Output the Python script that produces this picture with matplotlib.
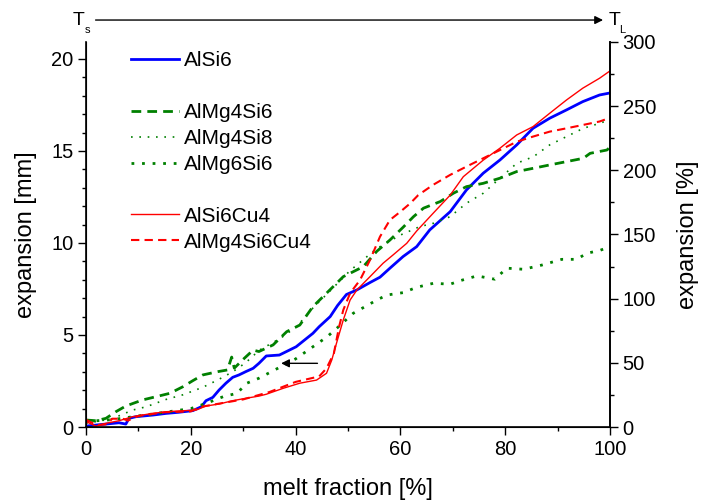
import numpy as np
import matplotlib
matplotlib.use('Agg')
import matplotlib.pyplot as plt
from matplotlib.ticker import MultipleLocator
from matplotlib.lines import Line2D

plt.rcParams['font.family'] = ['Liberation Sans', 'DejaVu Sans']
plt.rcParams['font.size'] = 14.5

# data (melt fraction [%], expansion [mm])
alsi6_x = [0, 3.8, 6.3, 7.6, 8.2, 9.5, 12.8, 15.3, 17.7, 20.4, 22, 22.9, 24.2, 25.4, 26.7, 28, 29.2,
           30.5, 31.9, 33, 34.4, 36.9, 40.1, 43.3, 44.5, 46.6, 48, 49.7, 51.7, 54.2, 56.1, 58, 60.5,
           63.1, 65.6, 69.5, 72.6, 75.8, 79, 82.2, 85.3, 88.5, 91.7, 94.8, 98, 100]
alsi6_y = [0.05, 0.16, 0.23, 0.16, 0.47, 0.56, 0.65, 0.74, 0.80, 0.89, 1.10, 1.43, 1.61, 2.01, 2.38,
           2.70, 2.83, 3.01, 3.19, 3.46, 3.86, 3.91, 4.36, 5.09, 5.45, 6.0, 6.6, 7.2, 7.45, 7.85, 8.14,
           8.63, 9.26, 9.80, 10.71, 11.70, 12.88, 13.79, 14.51, 15.33, 16.23, 16.78, 17.23, 17.68,
           18.04, 18.15]

almg4si6_x = [0, 1.9, 3.8, 5.7, 7.6, 10.8, 13.4, 16, 18.5, 20.4, 22.3, 25.2, 27, 27.8, 28.3, 30.2,
              31.9, 33, 35.7, 38.3, 40.8, 43.3, 45.9, 49.1, 52.9, 55.5, 58, 60.5, 62.5, 64.4, 67.6,
              70.1, 72.6, 75.8, 79, 82.2, 85.4, 88.5, 91.7, 94.9, 96.2, 99.4, 100]
almg4si6_y = [0.38, 0.34, 0.47, 0.83, 1.14, 1.47, 1.65, 1.83, 2.19, 2.52, 2.83, 3.01, 3.1, 3.8, 3.2,
              3.73, 4.18, 4.1, 4.46, 5.18, 5.54, 6.54, 7.27, 8.17, 8.71, 9.55, 10.16, 10.85, 11.43,
              11.89, 12.25, 12.7, 13.06, 13.24, 13.52, 13.88, 14.06, 14.24, 14.42, 14.6, 14.87,
              15.05, 15.2]

almg4si8_x = [0, 5, 8.9, 11.5, 15.3, 18.5, 22.3, 25.1, 28, 30.5, 33.1, 37, 40.2, 43.4, 45.9, 50.4,
              55.5, 60, 63.7, 66.3, 69.5, 72.6, 75.8, 79, 82.2, 85.4, 88.5, 91.7, 94.9, 98, 100]
almg4si8_y = [0.2, 0.45, 0.92, 1.1, 1.5, 1.75, 2.16, 2.55, 3.0, 3.5, 4.18, 4.8, 5.45, 6.5, 7.2, 8.5,
              9.7, 10.43, 10.89, 11.07, 11.43, 12.16, 12.7, 13.52, 14.33, 14.69, 15.33, 15.78, 16.23,
              16.5, 16.7]

almg6si6_x = [0, 5, 10, 15, 20, 23, 26.2, 28.8, 30.7, 33, 36, 40, 43, 46, 48, 51, 55.5, 57.4, 60.5,
              63.1, 66.3, 69.5, 71.4, 74.6, 78, 80.3, 83.5, 87, 90.8, 93.6, 95.6, 98.1, 100]
almg6si6_y = [0.3, 0.4, 0.6, 0.8, 1.0, 1.29, 1.65, 1.83, 2.38, 2.65, 3.1, 3.7, 4.3, 4.9, 5.4, 6.18,
              6.9, 7.17, 7.3, 7.59, 7.81, 7.76, 7.95, 8.21, 8.03, 8.63, 8.57, 8.8, 9.11, 9.11, 9.44,
              9.6, 9.8]

alsi6cu4_x = [0, 1.9, 3.8, 6.3, 8.9, 12.7, 15.3, 17.7, 21, 22.9, 25.4, 28, 30.5, 33, 34.4, 37.6,
              40.8, 44, 45.9, 46.9, 47.8, 49.1, 50.4, 51.7, 54.2, 56.7, 58.6, 61.2, 63.1, 66.2, 69.5,
              72, 75.8, 79, 82.2, 85.3, 88.5, 91.7, 94.8, 98, 100]
alsi6cu4_y = [0.29, 0.05, 0.2, 0.34, 0.56, 0.74, 0.83, 0.87, 0.92, 1.14, 1.25, 1.43, 1.56, 1.68,
              1.78, 2.1, 2.38, 2.55, 2.92, 3.64, 4.55, 5.82, 6.9, 7.45, 8.17, 8.9, 9.35, 9.98, 10.65,
              11.6, 12.6, 13.6, 14.5, 15.15, 15.87, 16.32, 17.05, 17.77, 18.41, 18.95, 19.35]

almg4si6cu4_x = [0, 2, 4, 5, 7, 8, 10, 15, 20, 22, 25, 30, 35, 40, 43, 44.5, 45.9, 47.3, 48.3, 49.1,
                 50.4, 52.3, 54.2, 56.1, 58, 60, 61.9, 63.4, 66.2, 69.5, 72.6, 75.8, 79, 82.2, 85.3,
                 88.5, 91.7, 94.8, 98, 100]
almg4si6cu4_y = [0.4, 0.1, 0.15, 0.45, 0.45, 0.35, 0.6, 0.8, 0.85, 1.1, 1.25, 1.5, 1.9, 2.45, 2.65,
                 2.75, 3.19, 4.0, 5.45, 6.36, 7.27, 7.99, 9.08, 10.34, 11.25, 11.7, 12.16, 12.6,
                 13.15, 13.7, 14.15, 14.6, 15.05, 15.5, 15.78, 16.05, 16.23, 16.41, 16.6, 16.8]

arrow_start = (44.7, 3.46)
arrow_end = (36.7, 3.46)

green = '#008000'

fig = plt.figure(figsize=(7.02, 5.01), dpi=100)
ax = fig.add_axes([0.1225, 0.1477, 0.7465, 0.7685])

l1, = ax.plot(alsi6_x, alsi6_y, color='blue', lw=2, label='AlSi6')
l2, = ax.plot(almg4si6_x, almg4si6_y, color=green, lw=2, ls=(0, (3.5, 2.2)), label='AlMg4Si6')
l3, = ax.plot(almg4si8_x, almg4si8_y, color=green, lw=1.2, ls=(0, (1, 4)), label='AlMg4Si8')
l4, = ax.plot(almg6si6_x, almg6si6_y, color=green, lw=2, ls=(0, (1, 2.8)), label='AlMg6Si6')
l5, = ax.plot(alsi6cu4_x, alsi6cu4_y, color='red', lw=1, label='AlSi6Cu4')
l6, = ax.plot(almg4si6cu4_x, almg4si6cu4_y, color='red', lw=1.5, ls=(0, (4, 2.5)),
              label='AlMg4Si6Cu4')

ax.annotate('', xy=arrow_end, xytext=arrow_start,
            arrowprops=dict(arrowstyle='-|>', color='black', lw=1, mutation_scale=12))

ax.set_xlim(0, 100)
ax.set_ylim(0, 20.92)
ax.xaxis.set_major_locator(MultipleLocator(20))
ax.xaxis.set_minor_locator(MultipleLocator(10))
ax.yaxis.set_major_locator(MultipleLocator(5))
ax.yaxis.set_minor_locator(MultipleLocator(1))
ax.tick_params(which='major', direction='out', length=5.5, width=1, pad=3.5)
ax.tick_params(which='minor', direction='out', length=3, width=1)
ax.spines['top'].set_visible(False)
for s in ['left', 'bottom', 'right']:
    ax.spines[s].set_linewidth(1.2)
ax.set_xlabel('melt fraction [%]', fontsize=17, labelpad=14)
ax.set_ylabel('expansion [mm]', fontsize=17, labelpad=10)

ax2 = ax.twinx()
ax2.set_ylim(0, 300)
ax2.yaxis.set_major_locator(MultipleLocator(50))
ax2.yaxis.set_minor_locator(MultipleLocator(25))
ax2.tick_params(which='major', direction='out', length=5.5, width=1, pad=3.5)
ax2.tick_params(which='minor', direction='out', length=3, width=1)
ax2.spines['top'].set_visible(False)
ax2.spines['right'].set_linewidth(1.2)
ax2.set_ylabel('expansion [%]', fontsize=17, labelpad=15)

blank = Line2D([], [], color='none')
handles = [l1, blank, l2, l3, l4, blank, l5, l6]
labels = ['AlSi6', '', 'AlMg4Si6', 'AlMg4Si8', 'AlMg6Si6', '', 'AlSi6Cu4', 'AlMg4Si6Cu4']
ax.legend(handles, labels, loc='upper left', frameon=False, fontsize=15,
          handlelength=2.3, handletextpad=0.25, labelspacing=0.33,
          bbox_to_anchor=(0.05, 1.024))

# T_s -> T_L arrow above the plot
ax.annotate('', xy=(0.992, 1.057), xytext=(0.013, 1.057), xycoords='axes fraction',
            arrowprops=dict(arrowstyle='-|>', color='black', lw=1, mutation_scale=12))
ax.text(-0.003, 1.057, 'T', transform=ax.transAxes, ha='right', va='center', fontsize=14)
ax.text(-0.003, 1.03, 's', transform=ax.transAxes, ha='left', va='center', fontsize=8)
ax.text(0.997, 1.057, 'T', transform=ax.transAxes, ha='left', va='center', fontsize=14)
ax.text(1.017, 1.03, 'L', transform=ax.transAxes, ha='left', va='center', fontsize=8)

fig.savefig('out.png', dpi=100)
